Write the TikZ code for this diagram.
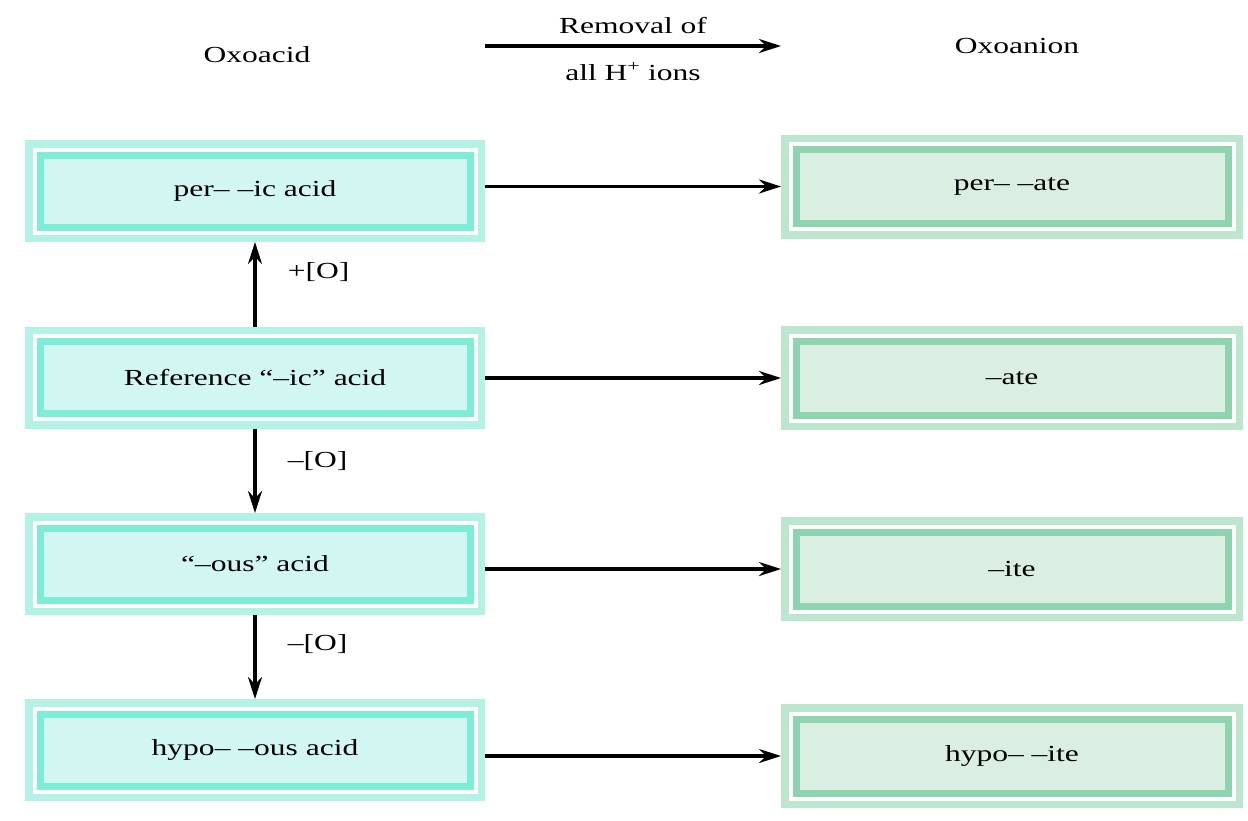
\documentclass[tikz,border=0pt]{standalone}
\usepackage{fontspec}
\setmainfont{Liberation Serif}[FakeStretch=1.37]
\usetikzlibrary{arrows.meta,positioning}

\definecolor{acidfill}{HTML}{D2F7F2}
\definecolor{acidline}{HTML}{7EEDD6}
\definecolor{acidlight}{HTML}{B2F3E6}
\definecolor{anionfill}{HTML}{DAEEE2}
\definecolor{anionline}{HTML}{8FD4B0}
\definecolor{anionlight}{HTML}{BCE6CE}

\tikzset{
	acidbox/.style={rectangle,inner sep=0pt,outer sep=15pt,
		minimum width=430pt,minimum height=72pt,
		fill=acidfill,draw=acidline,line width=7pt,
		preaction={draw=acidlight,line width=30pt},
		preaction={draw=white,line width=15pt}},
	anionbox/.style={rectangle,inner sep=0pt,outer sep=15pt,
		minimum width=432pt,minimum height=74pt,
		fill=anionfill,draw=anionline,line width=7pt,
		preaction={draw=anionlight,line width=30pt},
		preaction={draw=white,line width=15pt}},
	fleche/.style={line width=3.2pt,-{Stealth[length=22pt,width=14pt]}},
}

\begin{document}
\begin{tikzpicture}[x=1pt,y=-1pt,font=\fontsize{23}{27}\selectfont]
	\useasboundingbox (0,0) rectangle (1248,820);
	%
	% En-tete
	\node (oxoacid) at (257,55) {Oxoacid};
	\node (oxoanion) at (1017,46) {Oxoanion};
	\coordinate (hdl) at (485,46); \coordinate (hdr) at (781,46);
	\draw[fleche] (hdl) -- (hdr) node[midway,above=7pt] {Removal of}
		node[midway,below=11pt] {all H\textsuperscript{+} ions};
	%
	% Boites acides et anions
	\foreach \i/\ya/\yb/\acid/\anion in {
		1/191/186.5/{per– –ic acid}/{per– –ate},
		2/377.5/378/{Reference “–ic” acid}/{–ate},
		3/564/569/{“–ous” acid}/{–ite},
		4/750/756/{hypo– –ous acid}/{hypo– –ite}}{
		\node[acidbox] (a\i) at (255,\ya) {\acid};
		\node[anionbox] (b\i) at (1012,\yb) {\anion};
		\draw[fleche] (a\i.east |- b\i) -- (b\i.west);
	};
	%
	% Ajout / retrait d'oxygene
	\draw[fleche] (a2.north) -- (a1.south) node[pos=0.65,right=28pt] {+[O]};
	\draw[fleche] (a2.south) -- (a3.north) node[pos=0.38,right=28pt] {–[O]};
	\draw[fleche] (a3.south) -- (a4.north) node[pos=0.35,right=28pt] {–[O]};
\end{tikzpicture}
\end{document}
